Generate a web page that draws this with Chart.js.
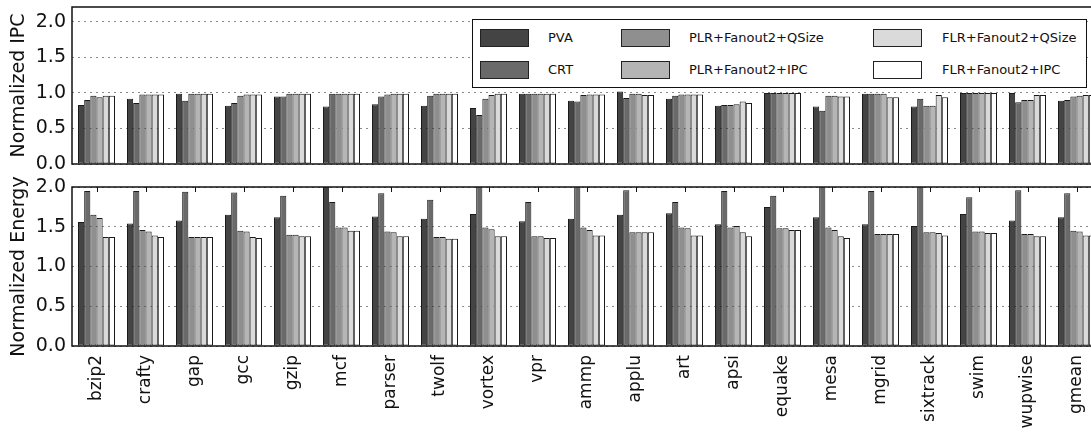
<!DOCTYPE html>
<html>
<head>
<meta charset="utf-8">
<title>Normalized IPC and Energy</title>
<script src="https://cdn.jsdelivr.net/npm/chart.js@4.4.1/dist/chart.umd.min.js"></script>
<style>
	html, body { margin: 0; padding: 0; background: #fff; overflow: hidden; }
	#wrap { position: relative; width: 1091px; height: 436px; overflow: hidden; background: #fff; }
	canvas { position: absolute; left: 0; }
	#ipc_chart { top: 0; }
	#energy_chart { top: 176px; }
	#legend {
		position: absolute; left: 472px; top: 19px; width: 615px; height: 69px;
		box-sizing: border-box; border: 1.5px solid #111; background: #fff;
		font-family: 'DejaVu Sans', sans-serif; font-size: 13px; color: #111;
	}
	#legend .swatch { position: absolute; width: 49px; height: 18px; box-sizing: border-box; border: 1.5px solid #222; }
	#legend .name { position: absolute; line-height: 18px; white-space: nowrap; }
</style>
</head>
<body>
<div id="wrap">
	<canvas id="ipc_chart" width="1110" height="180"></canvas>
	<canvas id="energy_chart" width="1110" height="260"></canvas>
	<div id="legend"></div>
</div>
<script>
const categories = ['bzip2', 'crafty', 'gap', 'gcc', 'gzip', 'mcf', 'parser', 'twolf', 'vortex', 'vpr',
	'ammp', 'applu', 'art', 'apsi', 'equake', 'mesa', 'mgrid', 'sixtrack', 'swim', 'wupwise', 'gmean'];
const series_names = ['PVA', 'CRT', 'PLR+Fanout2+QSize', 'PLR+Fanout2+IPC', 'FLR+Fanout2+QSize', 'FLR+Fanout2+IPC'];
const series_colors = ['#444444', '#6a6a6a', '#8f8f8f', '#b5b5b5', '#dadada', '#ffffff'];

// top panel: normalized IPC
const ipc_pva      = [0.83, 0.92, 0.99, 0.82, 0.95, 0.81, 0.84, 0.82, 0.79, 0.99, 0.89, 1.02, 0.92, 0.82, 1.00, 0.81, 0.99, 0.81, 1.00, 1.00, 0.89];
const ipc_crt      = [0.90, 0.86, 0.89, 0.86, 0.95, 0.99, 0.95, 0.96, 0.69, 0.99, 0.88, 0.93, 0.96, 0.83, 1.00, 0.75, 0.99, 0.92, 1.00, 0.87, 0.90];
const ipc_plr_qsize = [0.96, 0.98, 0.99, 0.96, 0.99, 0.99, 0.98, 0.99, 0.92, 0.99, 0.97, 0.99, 0.98, 0.83, 1.00, 0.96, 0.99, 0.82, 1.00, 0.90, 0.95];
const ipc_plr_ipc  = [0.94, 0.98, 0.99, 0.98, 0.99, 0.99, 0.99, 0.99, 0.97, 0.99, 0.98, 0.99, 0.98, 0.84, 1.00, 0.96, 0.99, 0.82, 1.00, 0.90, 0.96];
const ipc_flr_qsize = [0.96, 0.98, 0.99, 0.98, 0.99, 0.99, 0.99, 0.99, 0.99, 0.99, 0.98, 0.97, 0.98, 0.88, 1.00, 0.95, 0.94, 0.97, 1.00, 0.97, 0.97];
const ipc_flr_ipc  = [0.96, 0.98, 0.99, 0.98, 0.99, 0.99, 0.99, 0.99, 0.99, 0.99, 0.98, 0.97, 0.98, 0.86, 1.00, 0.95, 0.94, 0.94, 1.00, 0.97, 0.97];

// bottom panel: normalized energy (values above 2.0 are cut by the axis)
const energy_pva      = [1.56, 1.54, 1.58, 1.65, 1.62, 2.05, 1.63, 1.60, 1.66, 1.57, 1.60, 1.65, 1.67, 1.53, 1.75, 1.62, 1.53, 1.51, 1.66, 1.58, 1.62];
const energy_crt      = [1.95, 1.95, 1.94, 1.93, 1.89, 1.81, 1.92, 1.84, 2.05, 1.81, 2.05, 1.96, 1.81, 1.95, 1.89, 2.05, 1.95, 2.05, 1.87, 1.96, 1.92];
const energy_plr_qsize = [1.65, 1.46, 1.37, 1.45, 1.40, 1.49, 1.44, 1.37, 1.49, 1.38, 1.49, 1.43, 1.49, 1.49, 1.48, 1.49, 1.41, 1.43, 1.44, 1.41, 1.45];
const energy_plr_ipc  = [1.61, 1.44, 1.37, 1.44, 1.40, 1.49, 1.43, 1.37, 1.47, 1.38, 1.46, 1.43, 1.48, 1.51, 1.48, 1.46, 1.41, 1.43, 1.44, 1.41, 1.44];
const energy_flr_qsize = [1.37, 1.39, 1.37, 1.37, 1.38, 1.45, 1.38, 1.35, 1.38, 1.36, 1.39, 1.43, 1.39, 1.43, 1.46, 1.38, 1.41, 1.42, 1.42, 1.38, 1.39];
const energy_flr_ipc  = [1.37, 1.37, 1.37, 1.36, 1.38, 1.45, 1.38, 1.35, 1.38, 1.36, 1.39, 1.43, 1.39, 1.38, 1.46, 1.36, 1.41, 1.39, 1.42, 1.38, 1.39];

const ipc_max = 2.21;
const energy_max = 2.0;
const tick_step = 0.5;

const font_family = "'DejaVu Sans', sans-serif";

// black box round the plot area, plus the small inward ticks on top
const frame_plugin = {
	id: 'frame',
	afterDraw(chart, args, opts) {
		const ctx = chart.ctx, a = chart.chartArea;
		ctx.save();
		ctx.strokeStyle = '#111';
		ctx.lineWidth = 1.5;
		ctx.strokeRect(a.left, a.top, a.right - a.left, a.bottom - a.top);
		if (opts.top_ticks) {
			const x = chart.scales.x;
			ctx.lineWidth = 1;
			for (let i = 0; i < categories.length; i ++) {
				const px = Math.round(x.getPixelForTick(i)) + 0.5;
				ctx.beginPath();
				ctx.moveTo(px, a.top);
				ctx.lineTo(px, a.top + 5);
				ctx.stroke();
			}
		}
		ctx.restore();
	}
};

function make_chart(canvas, series, y_max, y_title, show_x) {
	const datasets = series.map((values, i) => ({
		label: series_names[i],
		data: values,
		backgroundColor: series_colors[i],
		borderColor: '#1a1a1a',
		borderWidth: 1,
		borderSkipped: false,
		categoryPercentage: 0.755,
		barPercentage: 1.0
	}));
	return new Chart(canvas, {
		type: 'bar',
		data: { labels: categories, datasets: datasets },
		options: {
			responsive: false,
			animation: false,
			layout: {
				padding: show_x ? { top: 11, right: 9, left: 0, bottom: 0 } : { top: 7, right: 9, left: 0, bottom: 16 }
			},
			plugins: {
				legend: { display: false },
				tooltip: { enabled: false },
				frame: { top_ticks: show_x }
			},
			scales: {
				x: {
					display: show_x,
					grid: { display: false, drawTicks: false },
					border: { display: false },
					ticks: {
						minRotation: 90, maxRotation: 90, padding: 9, autoSkip: false,
						color: '#111', font: { family: font_family, size: 17 }
					},
					afterFit(scale) {
						if (!show_x) {
							scale.height = 0;
							return;
						}
						scale.height = 90;
						scale.paddingLeft = 0;
						scale.paddingRight = 0;
					}
				},
				y: {
					min: 0,
					max: y_max,
					grid: { color: '#8a8a8a', lineWidth: 1, drawTicks: false },
					border: { display: false, dash: [2, 4] },
					ticks: {
						stepSize: tick_step, includeBounds: false, padding: 6,
						color: '#111', font: { family: font_family, size: 19 },
						callback: v => v.toFixed(1)
					},
					title: {
						display: true, text: y_title, color: '#111',
						font: { family: font_family, size: 19 },
						padding: { top: 8, bottom: 0 }
					},
					afterFit(scale) {
						scale.width = 72;
						scale.paddingTop = 0;
						scale.paddingBottom = 0;
					}
				}
			}
		},
		plugins: [frame_plugin]
	});
}

function build_legend() {
	const box = document.getElementById('legend');
	const swatch_x = [7, 148, 400];
	const text_x = [75, 216, 469];
	const row_y = [8.5, 40.5];
	series_names.forEach((name, i) => {
		const col = Math.floor(i / 2), row = i % 2;
		const sw = document.createElement('div');
		sw.className = 'swatch';
		sw.style.left = swatch_x[col] + 'px';
		sw.style.top = row_y[row] + 'px';
		sw.style.background = series_colors[i];
		const tx = document.createElement('div');
		tx.className = 'name';
		tx.style.left = text_x[col] + 'px';
		tx.style.top = row_y[row] + 'px';
		tx.textContent = name;
		box.appendChild(sw);
		box.appendChild(tx);
	});
}

make_chart(document.getElementById('ipc_chart'),
	[ipc_pva, ipc_crt, ipc_plr_qsize, ipc_plr_ipc, ipc_flr_qsize, ipc_flr_ipc],
	ipc_max, 'Normalized IPC', false);
make_chart(document.getElementById('energy_chart'),
	[energy_pva, energy_crt, energy_plr_qsize, energy_plr_ipc, energy_flr_qsize, energy_flr_ipc],
	energy_max, 'Normalized Energy', true);
build_legend();
</script>
</body>
</html>
